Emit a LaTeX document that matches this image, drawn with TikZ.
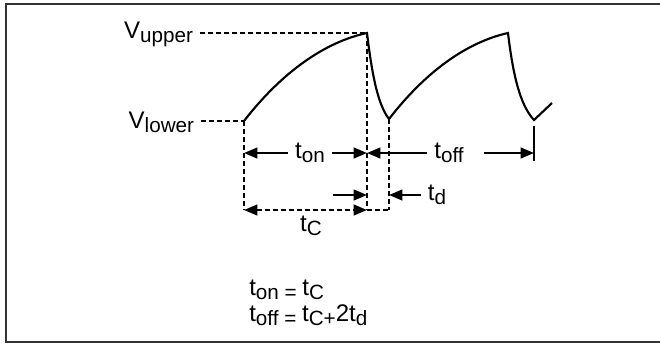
\documentclass[tikz,border=0pt]{standalone}
\usepackage{fontspec}
\setmainfont{Liberation Sans}
\usetikzlibrary{arrows.meta}
\newcommand{\sbs}[1]{\raisebox{-3.2pt}{\fontsize{15.5}{17}\selectfont #1}}

\begin{document}
\begin{tikzpicture}[x=0.75pt, y=-0.75pt, font=\fontsize{18}{21}\selectfont,
    >={Triangle[length=10pt, width=8pt]},
    wave/.style={line width=1.6pt},
    guide/.style={line width=1.6pt, dash pattern=on 3.6pt off 2.4pt},
    dim/.style={line width=1.6pt},
    lbl/.style={inner sep=5pt}]
    \useasboundingbox (0,0) rectangle (660,343);
    \clip (0,0) rectangle (660,343);
    \draw[line width=1.6pt, black!80] (6,4) rectangle (690,342);

    % points of the wave
    \coordinate (s0) at (244,121);
    \coordinate (p1) at (367,33);
    \coordinate (m1) at (389,119);
    \coordinate (p2) at (508,33);
    \coordinate (m2) at (534,120);
    \coordinate (e) at (552,103);

    % feet of the guides
    \coordinate (cL) at (244,210);
    \coordinate (cR) at (367,210);
    \coordinate (cE) at (389,210);

    % dimension tips
    \coordinate (onL) at (244,153);
    \coordinate (onR) at (367,153);
    \coordinate (offR) at (534,153);
    \coordinate (barT) at (534,126);
    \coordinate (barB) at (534,161);
    \coordinate (dA) at (333,195);
    \coordinate (dB) at (367,195);
    \coordinate (dR) at (389,195);

    \node[lbl, anchor=base east] (vup) at (200,38) {V\sbs{upper}};
    \node[lbl, anchor=base east] (vlow) at (201,128) {V\sbs{lower}};
    \node[lbl] (ton) at (310,153) {t\sbs{on}};
    \node[lbl] (toff) at (449,153) {t\sbs{off}};
    \node[lbl, anchor=west] (td) at (421,195) {t\sbs{d}};
    \node[lbl] (tc) at (311,226) {t\sbs{C}};
    \node[inner sep=0pt, anchor=base west] (eq1) at (249,295) {t\sbs{on = }t\sbs{C}};
    \node[inner sep=0pt, anchor=base west] (eq2) at (249,321) {t\sbs{off = }t\sbs{C+}2t\sbs{d}};

    \draw[wave] (s0) .. controls (282,72) and (325,42) .. (p1)
        .. controls (372,75) and (378,105) .. (m1)
        .. controls (427,70) and (468,42) .. (p2)
        .. controls (513,75) and (520,105) .. (m2) -- (e);

    \draw[guide] (vup.east |- p1) -- (p1);
    \draw[guide] (vlow.east |- s0) -- (s0);
    \draw[guide] (s0) -- (cL);
    \draw[guide] (p1) -- (cR);
    \draw[guide] (m1) -- (cE);
    \draw[guide, <->] (cL) -- (cR);
    \draw[guide] (cR) -- (cE);

    \draw[dim, ->] (ton) -- (onL);
    \draw[dim, ->] (ton) -- (onR);
    \draw[dim, ->] (toff) -- (onR);
    \draw[dim, ->] ([xshift=10pt]toff.east) -- (offR);
    \draw[dim] (barT) -- (barB);
    \draw[dim, ->] (dA) -- (dB);
    \draw[dim, ->] (td) -- (dR);
\end{tikzpicture}
\end{document}
